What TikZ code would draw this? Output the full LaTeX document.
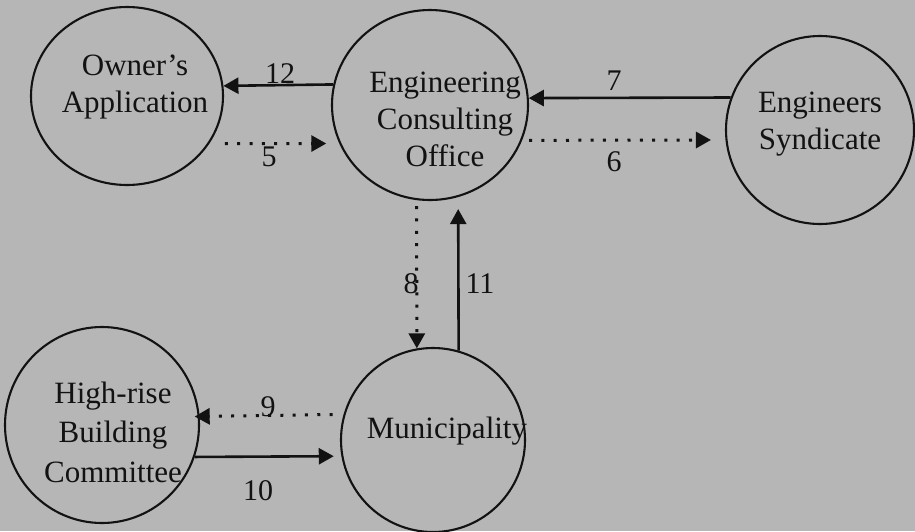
\documentclass[tikz,border=0pt]{standalone}
\usepackage{fontspec}
\setmainfont{Liberation Serif}
\usetikzlibrary{shapes.geometric,arrows.meta}
\definecolor{paper}{RGB}{182,182,182}
\definecolor{ink}{RGB}{18,18,18}
\begin{document}
\begin{tikzpicture}[x=1pt,y=-1pt,
  party/.style={draw=ink, line width=2.1pt, ellipse, inner sep=0pt},
  caption/.style={text=ink, font=\fontsize{31}{37}\selectfont, align=center, inner sep=0pt},
  flowlabel/.style={text=ink, font=\fontsize{30}{36}\selectfont, inner sep=0pt},
  solidflow/.style={draw=ink, line width=2.6pt, -{Triangle[length=15pt,width=16pt]}},
  dottedflow/.style={draw=ink, line width=3pt, dash pattern=on 3pt off 9.3pt, -{Triangle[length=15pt,width=16pt]}},
]
% page
\fill[paper] (0,0) rectangle (915,531);
\useasboundingbox (0,0) rectangle (915,531);

% parties
\node[party, minimum width=192pt, minimum height=178pt] (own) at (127,96) {};
\node[party, minimum width=196pt, minimum height=190pt] (eco) at (430,105) {};
\node[party, minimum width=188pt, minimum height=188pt] (syn) at (820,130) {};
\node[party, minimum width=194pt, minimum height=196pt] (hrc) at (102,425) {};
\node[party, minimum width=184pt, minimum height=184pt] (mun) at (433,440) {};

% names
\node[caption] (ownname) at (135,87) {Owner's\\Application};
\node[caption] (econame) at (445,119) {Engineering\\Consulting\\Office};
\node[caption] (synname) at (820,124.5) {Engineers\\Syndicate};
\node[caption, font=\fontsize{31}{39.5}\selectfont] (hrcname) at (113,432) {High-rise\\Building\\Committee};
\node[caption] (munname) at (447,431) {Municipality};

% flows
\draw[solidflow] (eco.168.2) -- (own.6.6);
\draw[dottedflow, shorten <=15.5pt, shorten >=13pt] (own.-30) -- (eco.203);
\draw[solidflow] (syn.160.1) -- (eco.4.1);
\draw[dottedflow, shorten <=7pt, shorten >=14.5pt] (eco.-21) -- (syn.186.1);
\draw[dottedflow, shorten <=6pt] (eco.262.1) -- (mun.100);
\draw[solidflow, shorten >=12pt] (mun.74.9) -- (eco.-73.5);
\draw[dottedflow, shorten <=11pt, shorten >=-5pt] (mun.164.2) -- (hrc.5.9);
\draw[solidflow, shorten >=7.6pt] (hrc.-19.2) -- (mun.190.6);

% flow numbers
\node[flowlabel] (n12) at (280,74) {12};
\node[flowlabel] (n5) at (269,157) {5};
\node[flowlabel] (n7) at (614,81) {7};
\node[flowlabel] (n6) at (614,162) {6};
\node[flowlabel] (n8) at (411,284) {8};
\node[flowlabel] (n11) at (480,284) {11};
\node[flowlabel] (n9) at (268,407) {9};
\node[flowlabel] (n10) at (258,491) {10};
\end{tikzpicture}
\end{document}
